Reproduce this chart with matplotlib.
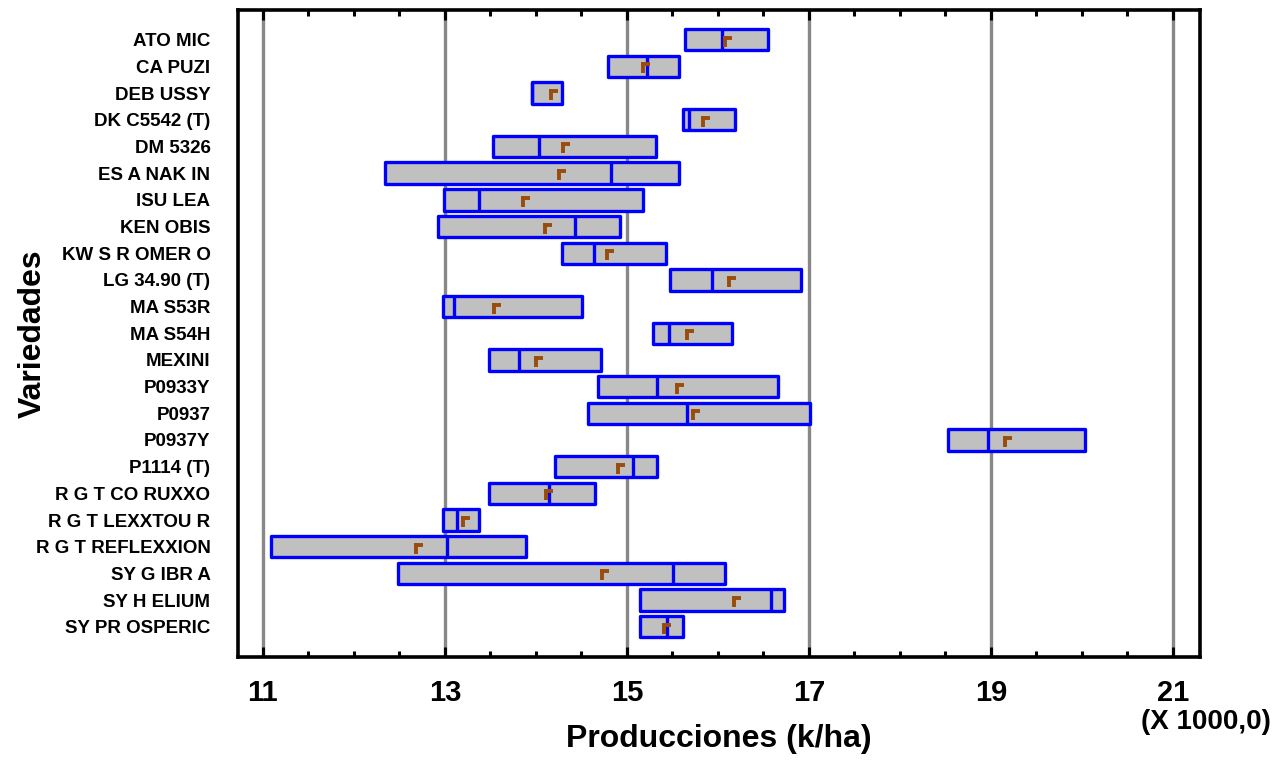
import matplotlib
matplotlib.use("Agg")
import matplotlib.pyplot as plt
from matplotlib.path import Path
from matplotlib.ticker import MultipleLocator
import numpy as np


#Data (x 1000 kg/ha)
variedades = ["ATO MIC", "CA PUZI", "DEB USSY", "DK C5542 (T)", "DM 5326",
              "ES A NAK IN", "ISU LEA", "KEN OBIS", "KW S R OMER O",
              "LG 34.90 (T)", "MA S53R", "MA S54H", "MEXINI", "P0933Y",
              "P0937", "P0937Y", "P1114 (T)", "R G T CO RUXXO",
              "R G T LEXXTOU R", "R G T REFLEXXION", "SY G IBR A",
              "SY H ELIUM", "SY PR OSPERIC"]
q1 = [15.64, 14.79, 13.96, 15.62, 13.53, 12.34, 12.99, 12.92, 14.29, 15.47,
      12.98, 15.29, 13.49, 14.68, 14.57, 18.53, 14.21, 13.49, 12.98, 11.09,
      12.48, 15.14, 15.14]
mediana = [16.05, 15.22, 13.96, 15.68, 14.03, 14.82, 13.38, 14.43, 14.64, 15.93,
           13.10, 15.46, 13.81, 15.33, 15.66, 18.97, 15.07, 14.14, 13.13, 13.02,
           15.51, 16.58, 15.44]
q3 = [16.55, 15.57, 14.29, 16.19, 15.32, 15.57, 15.18, 14.92, 15.43, 16.91,
      14.51, 16.15, 14.71, 16.66, 17.01, 20.03, 15.33, 14.65, 13.38, 13.89,
      16.08, 16.73, 15.62]
media = [16.08, 15.18, 14.17, 15.84, 14.30, 14.25, 13.86, 14.10, 14.78, 16.12,
         13.54, 15.66, 14.00, 15.55, 15.73, 19.15, 14.90, 14.11, 13.20, 12.68,
         14.73, 16.18, 15.41]
xticks = [11, 13, 15, 17, 19, 21]


#Mean marker (flag shape)
flag = Path([(0, 0.6), (0, -1.0), (-0.3, 0.35), (1.0, 0.35)],
            [Path.MOVETO, Path.LINETO, Path.MOVETO, Path.LINETO])

plt.rcParams['font.family'] = ['Liberation Sans', 'DejaVu Sans']
plt.rcParams['font.weight'] = 'bold'
plt.rcParams['axes.labelweight'] = 'bold'

fig = plt.figure(figsize=(12.81, 7.6), dpi=100)
ax = fig.add_axes([0.186, 0.136, 0.751, 0.851])

y = np.arange(len(variedades))
bars = ax.barh(y, np.array(q3) - np.array(q1), left=q1, height=0.8,
               color='#c0c0c0', edgecolor='#0000ff', linewidth=2.4, zorder=3)
for b in bars:
    b.set_joinstyle('round')
ax.vlines(mediana, y - 0.4, y + 0.4, color='#0000ff', linewidth=2.4, zorder=4)
ax.plot(media, y, linestyle='none', marker=flag, markersize=10,
        markeredgewidth=2.8, color='#994c0c', zorder=5)

ax.set_xlim(10.73, 21.3)
ax.set_ylim(len(variedades) - 1 + 1.12, -1.12)

ax.set_xticks(xticks)
ax.xaxis.set_minor_locator(MultipleLocator(0.5))
ax.grid(axis='x', which='major', color='#888888', linewidth=2.4, zorder=0)
ax.tick_params(axis='x', which='major', direction='in', length=7, width=2.2,
               top=True, labelsize=21, pad=16)
ax.tick_params(axis='x', which='minor', direction='in', length=4, width=2.2,
               top=True)
ax.set_yticks(y)
ax.set_yticklabels(variedades, fontsize=13.5)
ax.tick_params(axis='y', length=0, pad=20)
for s in ax.spines.values():
    s.set_linewidth(2.6)

ax.set_xlabel("Producciones (k/ha)", fontsize=23, labelpad=12)
ax.set_ylabel("Variedades", fontsize=23)
ax.yaxis.set_label_coords(-0.198, 0.5)
fig.text(0.992, 0.05, "(X 1000,0)", fontsize=20, ha='right', va='center',
         fontweight='bold')

plt.savefig('out.png', dpi=100)
